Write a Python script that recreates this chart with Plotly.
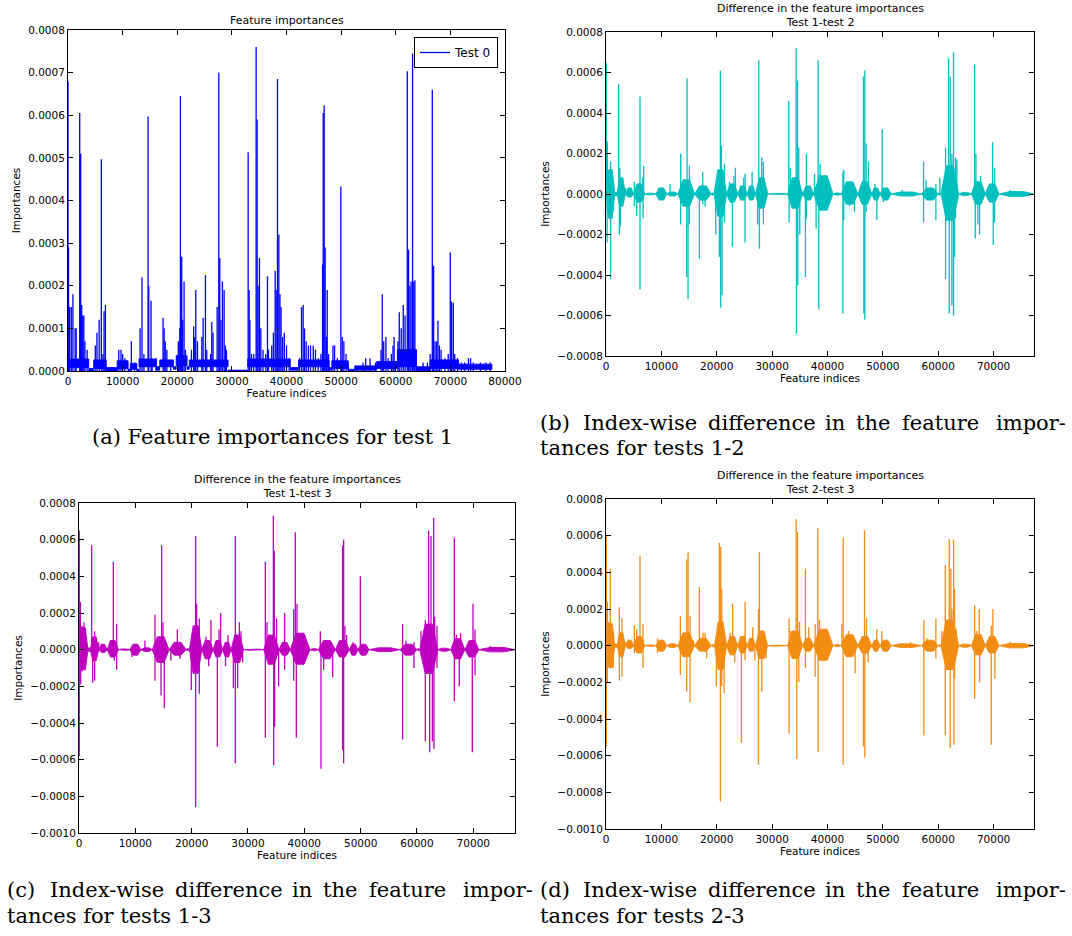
import plotly.graph_objects as go

# ------------------------------------------------------------------ data
N_FEATURES = 77300

# Panel (a): feature importances, test 1 (spike positions / heights)
A_SPIKE_X = [0, 100, 300, 600, 900, 1300, 1500, 2140, 2320, 2500, 2700, 2900, 3100, 3500,
             5000, 5300, 5700, 6100, 6400, 6600, 6850, 9300, 9700, 10000, 10400, 11600, 12200,
             13200, 13550, 13900, 14660, 14780, 15200, 15400, 16100, 17400, 17600, 17800, 18100, 18800,
             20200, 20460, 20580, 20700, 20820, 21000, 21250, 21500, 22600, 23000, 23200, 23390, 23700,
             24500, 24730, 25160, 25400, 26100, 26320, 26550, 27300, 27600, 27790, 28000, 28270, 28580,
             28800, 29000, 32980, 33160, 33300, 33600, 34000, 34440, 34630, 34800, 35050, 35300, 35700,
             36200, 36520, 36700, 37300, 37600, 37920, 38100, 38350, 38600, 38800, 39000, 39300, 39600,
             40000, 40500, 42400, 42750, 43050, 43300, 43600, 44000, 44400, 44900, 45300, 45800, 46300,
             46600, 46720, 46900, 47080, 47300, 47450, 47700, 48500, 48800, 49300, 49950, 50200, 50500,
             50900, 51300, 53000, 54000, 54500, 55300, 56300, 57300, 57530, 57800, 58200, 58600, 59200,
             59500, 59700, 60400, 60640, 61000, 61370, 61700, 62110, 62350, 62600, 62800, 63080, 63300,
             63500, 63700, 65000, 65800, 66300, 66690, 66930, 67200, 67500, 67730, 68000, 68300, 69000,
             69600, 69980, 70230, 70530, 70800, 71300, 72000, 72600, 73300, 73700, 74200, 75500, 76500,
             77300]
A_SPIKE_Y = [0.00068, 0.00029, 0.00015, 0.00015, 0.00018, 0.00010, 0.00010, 0.000605, 0.00051, 0.000155,
             0.00013, 0.00013, 0.00007, 0.00005,
             0.00006, 0.00009, 0.00012, 0.000497, 0.00004, 0.00014, 0.000155, 0.00005, 0.00005, 0.00004,
             0.00003, 0.00007, 0.00002,
             0.00010, 0.00022, 0.00004, 0.000597, 0.00020, 0.000165, 0.00003, 0.00003, 0.000125, 0.00010,
             0.00007, 0.00005, 0.00002,
             0.00007, 0.00010, 0.000645, 0.00022, 0.000268, 0.00012, 0.00021, 0.00005, 0.00005, 0.000105,
             0.00008, 0.00019, 0.00007,
             0.00008, 0.000125, 0.000225, 0.00005, 0.00004, 0.000115, 0.00009, 0.00015, 0.00070, 0.000265,
             0.00012, 0.00021, 0.00019,
             0.00006, 0.00005, 0.000513, 0.00019, 0.00012, 0.00004, 0.00004, 0.00076, 0.00059, 0.00020,
             0.000265, 0.00010, 0.00005,
             0.00004, 0.000222, 0.00005, 0.00006, 0.00009, 0.000235, 0.00019, 0.000685, 0.00032, 0.00018,
             0.00015, 0.00008, 0.00009,
             0.00006, 0.00003, 0.00003, 0.00015, 0.000155, 0.00010, 0.00007, 0.00006, 0.00006, 0.00006,
             0.00005, 0.00003, 0.00004,
             0.00025, 0.000605, 0.000623, 0.00029, 0.00008, 0.00019, 0.00004, 0.00006, 0.00006, 0.00003,
             0.000433, 0.00008, 0.00007,
             0.00004, 0.00002, 0.00001, 0.00002, 0.00003, 0.00003, 0.00002, 0.00005, 0.00018, 0.00007,
             0.00008, 0.00003, 0.00004,
             0.00006, 0.00008, 0.00007, 0.000138, 0.00010, 0.000155, 0.00013, 0.000703, 0.000285, 0.00020,
             0.00021, 0.000745, 0.00021,
             0.000213, 0.00005, 0.00002, 0.00002, 0.00004, 0.00066, 0.000247, 0.00007, 0.00007, 0.000118,
             0.00006, 0.00005, 0.00003,
             0.00004, 0.000278, 0.000163, 0.00016, 0.00004, 0.00003, 0.00002, 0.00002, 0.00003, 0.00003,
             0.00002, 0.00002, 0.00002,
             0.00002]
# dense low-level band of panel (a): start, end, lower, upper
A_BAND_START = [0, 3800, 4700, 7000, 9000, 11000, 11400, 12600, 13000, 16200, 16800, 19300, 19800, 21800,
                22200, 29300, 32900, 40700, 42200, 47800, 48300, 51300, 52500, 56500, 60300, 63800,
                66300, 71500]
A_BAND_END = [3800, 4700, 7000, 9000, 11000, 11400, 12600, 13000, 16200, 16800, 19300, 19800, 21800, 22200,
              29300, 32900, 40700, 42200, 47800, 48300, 51300, 52500, 56500, 60300, 63800, 66300,
              71500, 77600]
A_BAND_LO = [0.000008, 0.0, 0.000006, 0.0, 0.000005, 0.0, 0.000004, 0.0, 0.00001, 0.000002, 0.00001,
             0.000004, 0.000012, 0.000004, 0.00001, 0.0, 0.00001, 0.000002, 0.00001, 0.000002, 0.000006,
             0.0, 0.000002, 0.000006, 0.00001, 0.000001, 0.000006, 0.000004]
A_BAND_HI = [0.000028, 0.000006, 0.000026, 0.000008, 0.000024, 0.000004, 0.000018, 0.000004, 0.000028,
             0.00001, 0.000026, 0.00001, 0.000036, 0.00001, 0.000026, 0.000002, 0.000028, 0.000008,
             0.000026, 0.000008, 0.000024, 0.000004, 0.000012, 0.000022, 0.00005, 0.00001, 0.000026,
             0.000016]

# Panel (b): difference test 1 - test 2
B_SPIKE_X = [50, 200, 250, 600, 840, 840, 1300, 1300, 2290, 2410, 2500, 2600, 3500, 5120, 5120, 5540,
             6140, 6140, 6600, 6800, 6700, 9500, 10200, 11570, 13490, 13490, 14580, 14640, 14820, 15060,
             15060, 16870, 17470, 17470, 17900, 19820, 20480, 20660, 20720, 20840, 20960, 21390, 21390,
             22290, 22830, 23100, 23370, 24300, 24880, 25120, 25120, 26390, 27400, 27590, 27710, 28130,
             28430, 28430, 29000, 33010, 33070, 33300, 34340, 34400, 34580, 34640, 34820, 35000, 36020,
             36200, 36200, 37650, 37950, 38310, 38430, 38680, 39000, 42780, 42780, 42950, 42950, 43970,
             43970, 44880, 46500, 46560, 46750, 46750, 46990, 46990, 47410, 48600, 48920, 49880, 50100,
             50100, 53500, 57350, 57350, 57800, 59580, 59580, 60300, 61330, 61330, 61870, 61990, 62170,
             62470, 62470, 62770, 62770, 62950, 63130, 63130, 63370, 66570, 66690, 66810, 67170, 67470,
             67650, 68900, 69820, 69940, 70180, 70180, 73000]
B_SPIKE_Y = [0.00065, -0.00024, 0.00026, 0.00012, 0.00016, -0.00042, 0.00007, -0.00008, 0.000545,
             -0.00020, 0.00013, -0.00016, 0.00003, 0.00006, -0.00006, -0.00011,
             0.000482, -0.00047, 0.00008, 0.00014, -0.00012, 0.00003, -0.00003, 0.00005, 0.00020,
             -0.00015, -0.00041, 0.00057, -0.00052, 0.00014,
             -0.00015, -0.00032, 0.00011, -0.00005, -0.00006, -0.00020, -0.00031, 0.00061, -0.00056,
             0.00024, -0.00050, 0.00015, -0.00014,
             0.00006, -0.00026, 0.00009, 0.00013, 0.00004, 0.00008, 0.00010, -0.00024, 0.00011, -0.00015,
             0.00066, -0.00027, 0.00018,
             0.00016, -0.00015, 0.00003, 0.00046, -0.00014, 0.00013, 0.00072, -0.00069, 0.00056, -0.00045,
             0.00023, -0.00020, -0.00041,
             0.00020, -0.00012, 0.00010, -0.00017, 0.00066, -0.00057, 0.00015, -0.00006, 0.00011, -0.00059,
             0.00012, -0.00013, 0.00004,
             -0.00006, -0.00009, 0.00058, -0.00059, 0.00061, -0.00062, 0.00025, -0.00009, 0.00016, 0.00005,
             -0.00013, 0.00032, 0.00003,
             -0.00004, 0.00002, 0.00016, -0.00014, 0.00007, 0.00005, -0.00013, 0.00008, 0.00023, -0.00042,
             0.00067, -0.00059, 0.00058,
             0.00020, -0.00055, 0.00070, -0.00060, -0.00031, 0.00018, -0.00012, 0.00017, 0.00064,
             -0.00022, 0.00020, -0.00015, -0.00020,
             0.00009, 0.00003, 0.000255, -0.00025, 0.00013, -0.00014, 0.00002]
# noise bursts of panel (b): start, end, lower envelope, upper envelope
B_BAND_START = [0, 1600, 2000, 3500, 5000, 7000, 9000, 11000, 13000, 16000, 19000, 19500, 21800, 23800,
                25500, 27000, 29200, 32800, 35500, 37500, 41000, 42500, 45500, 48000, 49500, 51500,
                57000, 60000, 60500, 63700, 66000, 68500, 71000]
B_BAND_END = [1600, 2000, 3500, 5000, 7000, 9000, 11000, 13000, 16000, 19000, 19500, 21800, 23800, 25500,
              27000, 29200, 32800, 35500, 37500, 41000, 42500, 45500, 48000, 49500, 51500, 57000,
              60000, 60500, 63700, 66000, 68500, 71000, 77300]
B_BAND_LO = [-0.00012, -0.00001, -0.00006, -0.000015, -0.00004, -0.000004, -0.00003, -0.00001, -0.00006,
             -0.00003, -0.000005, -0.00011, -0.00004, -0.00003, -0.00003, -0.00007, -0.000003, -0.00007,
             -0.00003, -0.00008, -0.000005, -0.00005, -0.00005, -0.00003, -0.00003, -0.00001, -0.00003,
             -0.000005, -0.00013, -0.000008, -0.00005, -0.00004, -0.000012]
B_BAND_HI = [0.00012, 0.00001, 0.00008, 0.00003, 0.00005, 0.000004, 0.00003, 0.00001, 0.00007, 0.00004,
             0.000005, 0.00012, 0.00005, 0.00004, 0.00004, 0.00008, 0.000003, 0.00008, 0.00004, 0.00009,
             0.000005, 0.00006, 0.00006, 0.00003, 0.00003, 0.00001, 0.00003, 0.000005, 0.00014,
             0.000008, 0.00006, 0.00005, 0.000012]

# Panel (c): difference test 1 - test 3
C_SPIKE_X = [50, 50, 240, 300, 530, 530, 890, 890, 2250, 2430, 2780, 2780, 3500, 5560, 6090, 6270,
             6690, 6690, 9400, 11700, 13490, 13490, 14560, 14670, 14900, 15150, 16300, 17460, 17900,
             19940, 20710, 20710, 20890, 21360, 21360, 22540, 23010, 23430, 24560, 24860, 25150, 26010,
             26450, 27400, 27750, 27750, 28170, 28470, 28760, 29050, 33080, 33080, 33380, 34500, 34560,
             34670, 34730, 35080, 35440, 36510, 36510, 38110, 38110, 38400, 38580, 38700, 42840, 42960,
             43430, 44200, 45030, 46100, 46800, 46800, 46980, 46980, 47210, 47510, 48650, 49940, 50540,
             51140, 57460, 57460, 58050, 59470, 59470, 60710, 61480, 61480, 62070, 62250, 62490, 62730,
             62960, 63020, 63140, 63550, 63550, 66630, 66630, 66990, 67510, 67750, 69820, 69940, 70300,
             70300, 73000]
C_SPIKE_Y = [0.00065, -0.00058, 0.00026, -0.00019, 0.00013, -0.00012, 0.00015, -0.00009, 0.00057,
             -0.00018, 0.00010, -0.00017, 0.00004, 0.00005, 0.00048, -0.00006,
             0.00014, -0.00011, -0.00004, 0.00005, 0.00019, -0.00017, -0.00025, 0.00057, 0.00015, -0.00032,
             -0.00006, 0.00011, -0.00005,
             -0.00022, 0.00062, -0.00086, 0.00025, 0.00017, -0.00024, 0.00007, -0.00009, 0.00016, -0.00053,
             0.00011, 0.00020, -0.00009,
             0.00008, -0.00021, 0.00062, -0.00062, -0.00021, 0.00015, 0.00010, -0.00007, 0.00048, -0.00048,
             0.00015, 0.00073, -0.00063,
             0.00054, -0.00042, 0.00017, -0.00020, 0.00020, -0.00011, 0.00022, -0.00017, 0.00064, -0.00048,
             0.00025, 0.00010, -0.00065,
             -0.00011, 0.00004, -0.00015, 0.00004, 0.00057, -0.00055, 0.00060, -0.00062, 0.00013, 0.00008,
             0.00004, 0.00040, 0.00002,
             -0.00002, 0.00014, -0.00049, 0.00005, -0.00010, 0.00004, 0.00010, 0.00016, -0.00050, 0.00065,
             -0.00056, 0.00062, -0.00050,
             0.00072, -0.00054, 0.00018, 0.00013, -0.00010, 0.00061, -0.00028, 0.00008, -0.00020, 0.00009,
             -0.00056, 0.00025, 0.00011,
             -0.00014, 0.00002]
C_BAND_START = [0, 1600, 2000, 3500, 5000, 7000, 9000, 11000, 13000, 16000, 19000, 19600, 21800, 23800,
                25500, 27000, 29200, 32800, 35500, 37500, 41000, 42500, 45500, 48000, 49500, 51500,
                57000, 60000, 60500, 63700, 66000, 68500, 71000]
C_BAND_END = [1600, 2000, 3500, 5000, 7000, 9000, 11000, 13000, 16000, 19000, 19600, 21800, 23800, 25500,
              27000, 29200, 32800, 35500, 37500, 41000, 42500, 45500, 48000, 49500, 51500, 57000,
              60000, 60500, 63700, 66000, 68500, 71000, 77400]
C_BAND_LO = [-0.00011, -0.00001, -0.00006, -0.000015, -0.00004, -0.000004, -0.00003, -0.00001, -0.00007,
             -0.00003, -0.000005, -0.00013, -0.00005, -0.00004, -0.00004, -0.00007, -0.000003, -0.00008,
             -0.00003, -0.00008, -0.000005, -0.00005, -0.00004, -0.00003, -0.00003, -0.00001, -0.00003,
             -0.000005, -0.00013, -0.000008, -0.00005, -0.00004, -0.000012]
C_BAND_HI = [0.00012, 0.00001, 0.00007, 0.00003, 0.00005, 0.000004, 0.00003, 0.00001, 0.00007, 0.00004,
             0.000005, 0.00013, 0.00005, 0.00005, 0.00004, 0.00008, 0.000003, 0.00008, 0.00004, 0.00009,
             0.000005, 0.00005, 0.00005, 0.00003, 0.00003, 0.00001, 0.00003, 0.000005, 0.00014,
             0.000008, 0.00006, 0.00005, 0.000012]

# Panel (d): difference test 2 - test 3
D_SPIKE_X = [50, 50, 240, 240, 480, 780, 1000, 1330, 1330, 2410, 2410, 2890, 2890, 3500, 5120, 5120,
             5540, 5540, 6140, 6500, 6690, 6690, 9300, 9300, 13430, 13430, 14580, 14580, 14820, 15180,
             15180, 15800, 16870, 17530, 17890, 18190, 19940, 20480, 20660, 20720, 20900, 20900, 21330,
             22410, 22890, 23250, 24460, 25120, 25120, 26500, 26900, 27530, 27530, 27710, 28130, 28430,
             28910, 33070, 33070, 33370, 34340, 34460, 34580, 34820, 34940, 36020, 36020, 36620, 37770,
             37770, 38250, 38310, 38550, 38910, 42600, 42830, 42830, 43190, 43790, 45000, 46510, 46690,
             46750, 47050, 47350, 48920, 49800, 50600, 50600, 55000, 57410, 57410, 57950, 59580, 59580,
             60650, 61270, 61270, 61990, 62170, 62290, 62470, 62770, 62830, 62950, 62950, 63250, 66570,
             66570, 66990, 67410, 67470, 69580, 69580, 69880, 70240, 73000]
D_SPIKE_Y = [0.00060, -0.00055, 0.00024, -0.00020, 0.00013, 0.00042, -0.00005, 0.00008, -0.00012,
             0.00021, -0.00019, 0.00015, -0.00017, 0.00002, 0.00011, -0.00004,
             0.00009, -0.00004, 0.00049, -0.00002, 0.00012, -0.00012, 0.00004, -0.00004, 0.00016, -0.00016,
             0.00047, -0.00025, 0.00051, 0.00016,
             -0.00031, 0.00003, 0.00032, 0.00007, 0.00007, -0.00007, -0.00022, 0.00056, -0.00085, 0.00054,
             0.00031, -0.00022, -0.00026,
             0.00007, 0.00023, -0.00009, -0.00053, 0.00024, -0.00008, 0.00010, -0.00008, 0.00020, -0.00065,
             0.00051, -0.00025, 0.00008,
             -0.00007, 0.00015, -0.00048, 0.00008, 0.00069, -0.00062, 0.00062, -0.00020, 0.00013, 0.00042,
             -0.00012, 0.00010, 0.00012,
             -0.00017, 0.00064, -0.00058, 0.00014, -0.00005, 0.00012, 0.00059, -0.00065, -0.00005, 0.00008,
             -0.00015, -0.00055, 0.00063,
             -0.00061, 0.00015, -0.00009, 0.00009, 0.00008, 0.00002, -0.00003, 0.00002, 0.00014, -0.00049,
             0.00004, 0.00015, -0.00007,
             0.00008, 0.00044, -0.00049, 0.00058, -0.00056, 0.00042, 0.00020, 0.00058, -0.00054, 0.00031,
             -0.00018, 0.00009, 0.00022,
             -0.00029, 0.00008, 0.00020, -0.00020, 0.00011, -0.00054, 0.00020, -0.00018, 0.00002]
D_BAND_START = [0, 1600, 2000, 3500, 5000, 7000, 9000, 11000, 13000, 16000, 19000, 19600, 21800, 23800,
                25500, 27000, 29200, 32800, 35500, 37500, 41000, 42500, 45500, 48000, 49500, 51500,
                57000, 60000, 60500, 63700, 66000, 68500, 71000]
D_BAND_END = [1600, 2000, 3500, 5000, 7000, 9000, 11000, 13000, 16000, 19000, 19600, 21800, 23800, 25500,
              27000, 29200, 32800, 35500, 37500, 41000, 42500, 45500, 48000, 49500, 51500, 57000,
              60000, 60500, 63700, 66000, 68500, 71000, 77300]
D_BAND_LO = [-0.00012, -0.00001, -0.00006, -0.000015, -0.00004, -0.000004, -0.00003, -0.00001, -0.00006,
             -0.00003, -0.000005, -0.00013, -0.00005, -0.00004, -0.00003, -0.00007, -0.000003, -0.00007,
             -0.00003, -0.00008, -0.000005, -0.00006, -0.00004, -0.00003, -0.00003, -0.00001, -0.00003,
             -0.000005, -0.00013, -0.000008, -0.00005, -0.00004, -0.000012]
D_BAND_HI = [0.00012, 0.00001, 0.00007, 0.00003, 0.00005, 0.000004, 0.00003, 0.00001, 0.00007, 0.00004,
             0.000005, 0.00013, 0.00005, 0.00005, 0.00004, 0.00008, 0.000003, 0.00008, 0.00004, 0.00009,
             0.000005, 0.00006, 0.00005, 0.00003, 0.00003, 0.00001, 0.00003, 0.000005, 0.00014,
             0.000008, 0.00006, 0.00005, 0.000012]

X_TICKS_A = [0, 10000, 20000, 30000, 40000, 50000, 60000, 70000, 80000]
X_TICKS = [0, 10000, 20000, 30000, 40000, 50000, 60000, 70000]
Y_TICKS_A = [0.0, 0.0001, 0.0002, 0.0003, 0.0004, 0.0005, 0.0006, 0.0007, 0.0008]
Y_TICKS_B = [-0.0008, -0.0006, -0.0004, -0.0002, 0.0, 0.0002, 0.0004, 0.0006, 0.0008]
Y_TICKS_CD = [-0.0010, -0.0008, -0.0006, -0.0004, -0.0002, 0.0, 0.0002, 0.0004, 0.0006, 0.0008]

PANEL_TITLES = ["Feature importances",
                "Difference in the feature importances<br>Test 1-test 2",
                "Difference in the feature importances<br>Test 1-test 3",
                "Difference in the feature importances<br>Test 2-test 3"]
COLORS = ["#0000FF", "#00BFBF", "#BF00BF", "#F28C12"]
LEGEND_NAME = "Test 0"

# ------------------------------------------------------------------ helpers
W, H = 1072, 936


def spikes(xs, ys):
    px, py = [], []
    for x, y in zip(xs, ys):
        px += [x, x, None]
        py += [0.0, y, None]
    return px, py


def rect_bands(starts, ends, los, his):
    px, py = [], []
    for s, e, lo, hi in zip(starts, ends, los, his):
        px += [s, e, e, s, s, None]
        py += [lo, lo, hi, hi, lo, None]
    return px, py


def burst_bands(starts, ends, los, his):
    # noise bursts: envelope ramps up from the baseline, holds, and ramps down
    px, py = [], []
    for s, e, lo, hi in zip(starts, ends, los, his):
        w = e - s
        a, b = s + 0.3 * w, s + 0.7 * w
        px += [s, a, b, e, b, a, s, None]
        py += [0.0, hi, hi, 0.0, lo, lo, 0.0, None]
    return px, py


def xdom(a, b):
    return [a / W, b / W]


def ydom(top, bot):
    return [1 - bot / H, 1 - top / H]


PANELS = [
    dict(sx=A_SPIKE_X, sy=A_SPIKE_Y, band=rect_bands(A_BAND_START, A_BAND_END, A_BAND_LO, A_BAND_HI),
         xd=xdom(68, 505), yd=ydom(30, 371), xr=[0, 80000], yr=[0, 0.0008],
         xt=X_TICKS_A, yt=Y_TICKS_A),
    dict(sx=B_SPIKE_X, sy=B_SPIKE_Y, band=burst_bands(B_BAND_START, B_BAND_END, B_BAND_LO, B_BAND_HI),
         xd=xdom(606, 1034), yd=ydom(32, 356), xr=[0, N_FEATURES], yr=[-0.0008, 0.0008],
         xt=X_TICKS, yt=Y_TICKS_B),
    dict(sx=C_SPIKE_X, sy=C_SPIKE_Y, band=burst_bands(C_BAND_START, C_BAND_END, C_BAND_LO, C_BAND_HI),
         xd=xdom(79, 515), yd=ydom(503, 833), xr=[0, 77400], yr=[-0.0010, 0.0008],
         xt=X_TICKS, yt=Y_TICKS_CD),
    dict(sx=D_SPIKE_X, sy=D_SPIKE_Y, band=burst_bands(D_BAND_START, D_BAND_END, D_BAND_LO, D_BAND_HI),
         xd=xdom(606, 1034), yd=ydom(499, 829), xr=[0, N_FEATURES], yr=[-0.0010, 0.0008],
         xt=X_TICKS, yt=Y_TICKS_CD),
]

TICK_FONT = dict(family="DejaVu Sans", size=10.5, color="black")
LABEL_FONT = dict(family="DejaVu Sans", size=10.5, color="black")

fig = go.Figure()
layout = dict(width=W, height=H, margin=dict(l=0, r=0, t=0, b=0),
              paper_bgcolor="white", plot_bgcolor="white", showlegend=True)
annotations = []

for i, p in enumerate(PANELS):
    n = "" if i == 0 else str(i + 1)
    xa, ya = "x" + n, "y" + n
    col = COLORS[i]
    bx, by = p["band"]
    fig.add_trace(go.Scatter(x=bx, y=by, mode="lines", fill="toself", fillcolor=col,
                             line=dict(color=col, width=0.9), xaxis=xa, yaxis=ya,
                             showlegend=False, hoverinfo="skip"))
    sx, sy = spikes(p["sx"], p["sy"])
    fig.add_trace(go.Scatter(x=sx, y=sy, mode="lines", line=dict(color=col, width=1.3),
                             xaxis=xa, yaxis=ya, name=LEGEND_NAME, showlegend=(i == 0)))
    common = dict(showline=True, linecolor="black", linewidth=1, mirror="ticks", ticks="inside",
                  ticklen=5, tickcolor="black", tickwidth=1, showgrid=False, zeroline=False,
                  tickfont=TICK_FONT, automargin=False)
    layout["xaxis" + n] = dict(domain=p["xd"], anchor=ya, range=p["xr"], tickvals=p["xt"],
                               tickformat="d",
                               title=dict(text="Feature indices", standoff=3, font=LABEL_FONT),
                               **common)
    layout["yaxis" + n] = dict(domain=p["yd"], anchor=xa, range=p["yr"], tickvals=p["yt"],
                               tickformat=".4f",
                               title=dict(text="Importances", standoff=5, font=LABEL_FONT),
                               **common)
    annotations.append(dict(text=PANEL_TITLES[i], xref="paper", yref="paper",
                            x=(p["xd"][0] + p["xd"][1]) / 2, y=p["yd"][1], xanchor="center",
                            yanchor="bottom", yshift=1, showarrow=False,
                            font=dict(family="DejaVu Sans", size=11, color="black")))

# ------------------------------------------------------------------ captions
CAP_FONT = dict(family="DejaVu Serif", size=21, color="black")


def cap_words(words, lefts, y, last_right=None):
    for k, (w, x) in enumerate(zip(words, lefts)):
        if last_right is not None and k == len(words) - 1:
            annotations.append(dict(text=w, xref="paper", yref="paper", x=last_right / W, y=1 - y / H,
                                    xanchor="right", yanchor="middle", showarrow=False, font=CAP_FONT))
        else:
            annotations.append(dict(text=w, xref="paper", yref="paper", x=x / W, y=1 - y / H,
                                    xanchor="left", yanchor="middle", showarrow=False, font=CAP_FONT))


annotations.append(dict(text="(a) Feature importances for test 1", xref="paper", yref="paper",
                        x=272 / W, y=1 - 437 / H, xanchor="center", yanchor="middle",
                        showarrow=False, font=CAP_FONT))
WORDS1 = ["(b)", "Index-wise", "difference", "in", "the", "feature", "impor-"]
OFFS = [0, 43, 168, 285, 316, 362, 530]
cap_words(WORDS1, [538 + o for o in OFFS], 423, last_right=1068)
cap_words(["tances for tests 1-2"], [538], 448)
cap_words(["(c)"] + WORDS1[1:], [5 + o for o in OFFS], 890, last_right=535)
cap_words(["tances for tests 1-3"], [5], 916)
cap_words(["(d)"] + WORDS1[1:], [538 + o for o in OFFS], 890, last_right=1068)
cap_words(["tances for tests 2-3"], [538], 916)

layout["annotations"] = annotations
layout["legend"] = dict(x=498 / W, y=1 - 37 / H, xanchor="right", yanchor="top", bgcolor="white",
                        bordercolor="black", borderwidth=1,
                        font=dict(family="DejaVu Sans", size=12, color="black"),
                        itemwidth=30, tracegroupgap=0)
fig.update_layout(**layout)
fig.write_html("out.html")
